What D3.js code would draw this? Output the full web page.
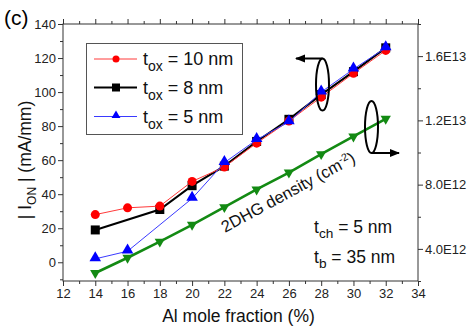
<!DOCTYPE html>
<html>
<head>
<meta charset="utf-8">
<script src="https://cdn.jsdelivr.net/npm/d3@7/dist/d3.min.js"></script>
<style>
  html, body { margin: 0; padding: 0; background: #fff; }
  svg { display: block; font-family: "Liberation Sans", Arial, sans-serif; }
</style>
</head>
<body>
<svg id="chart" width="474" height="334"></svg>
<script>
// Al mole fraction (%)
const alFraction = [14, 16, 18, 20, 22, 24, 26, 28, 30, 32];

// |I_ON| (mA/mm) for each oxide thickness
const tox10 = [
  [14, 28], [16, 32], [18, 33], [20, 47.5], [22, 56], [24, 70], [26, 83], [28, 97], [30, 111], [32, 124.5]
];
const tox8 = [
  [14, 19], [18, 31], [20, 45], [22, 56.5], [24, 71], [26, 84], [28, 98.5], [30, 112], [32, 126]
];
const tox5 = [
  [14, 2], [16, 6.5], [20, 37.5], [22, 58.5], [24, 72], [26, 82.5], [28, 100], [30, 113.5], [32, 126]
];

// 2DHG density (cm^-2), right axis
const hgDensity = [2.5e12, 3.45e12, 4.45e12, 5.5e12, 6.6e12, 7.7e12, 8.75e12, 9.9e12, 11.0e12, 12.1e12];

// Tick values and labels
const xTicks = [12, 14, 16, 18, 20, 22, 24, 26, 28, 30, 32, 34];
const yLeftTicks = [0, 20, 40, 60, 80, 100, 120, 140];
const yRightTicks = [4e12, 8e12, 12e12, 16e12];
const yRightLabels = ["4.0E12", "8.0E12", "1.2E13", "1.6E13"];

const svg = d3.select("#chart");
const plot = { left: 63, right: 418, top: 24, bottom: 281 };

const x = d3.scaleLinear().domain([12, 34]).range([plot.left, plot.right]);
const yL = d3.scaleLinear().domain([-11, 140]).range([plot.bottom, plot.top]);
const yR = d3.scaleLinear().domain([2e12, 18e12]).range([plot.bottom, plot.top]);

const axisColor = "#333";
const tickText = "#222";

// minor ticks
const xMinor = d3.range(13, 34, 2);
const yLeftMinor = d3.range(-10, 141, 20);
const yRightMinor = [2e12, 6e12, 10e12, 14e12, 18e12];

function styleAxis(g) {
  g.selectAll("path").attr("stroke", axisColor);
  g.selectAll("line").attr("stroke", axisColor);
  g.selectAll("text").attr("fill", tickText).style("font-size", "13px");
}

// bottom axis
svg.append("g").attr("transform", `translate(0,${plot.bottom})`)
  .call(d3.axisBottom(x).tickValues(xTicks).tickSize(5).tickSizeOuter(0).tickPadding(3))
  .call(styleAxis)
  .call(g => g.select(".domain").remove());
svg.append("g").attr("transform", `translate(0,${plot.bottom})`)
  .call(d3.axisBottom(x).tickValues(xMinor).tickSize(3).tickFormat(""))
  .call(styleAxis).call(g => g.select(".domain").remove());

// top axis (ticks only)
svg.append("g").attr("transform", `translate(0,${plot.top})`)
  .call(d3.axisTop(x).tickValues(xTicks).tickSize(5).tickFormat(""))
  .call(styleAxis).call(g => g.select(".domain").remove());
svg.append("g").attr("transform", `translate(0,${plot.top})`)
  .call(d3.axisTop(x).tickValues(xMinor).tickSize(3).tickFormat(""))
  .call(styleAxis).call(g => g.select(".domain").remove());

// left axis
svg.append("g").attr("transform", `translate(${plot.left},0)`)
  .call(d3.axisLeft(yL).tickValues(yLeftTicks).tickSize(5).tickPadding(2))
  .call(styleAxis).call(g => g.select(".domain").remove());
svg.append("g").attr("transform", `translate(${plot.left},0)`)
  .call(d3.axisLeft(yL).tickValues(yLeftMinor).tickSize(3).tickFormat(""))
  .call(styleAxis).call(g => g.select(".domain").remove());

// right axis
svg.append("g").attr("transform", `translate(${plot.right},0)`)
  .call(d3.axisRight(yR).tickValues(yRightTicks).tickSize(5).tickPadding(2)
    .tickFormat((d, i) => yRightLabels[i]))
  .call(styleAxis).call(g => g.select(".domain").remove());
svg.append("g").attr("transform", `translate(${plot.right},0)`)
  .call(d3.axisRight(yR).tickValues(yRightMinor).tickSize(3).tickFormat(""))
  .call(styleAxis).call(g => g.select(".domain").remove());

// frame
svg.append("rect")
  .attr("x", plot.left).attr("y", plot.top)
  .attr("width", plot.right - plot.left).attr("height", plot.bottom - plot.top)
  .attr("fill", "none").attr("stroke", axisColor).attr("stroke-width", 1);

// series
const lineL = d3.line().x(d => x(d[0])).y(d => yL(d[1]));

const greenPts = alFraction.map((a, i) => [a, hgDensity[i]]);
const lineR = d3.line().x(d => x(d[0])).y(d => yR(d[1]));

const tri = d3.symbol().type(d3.symbolTriangle).size(58);
const triDown = d3.symbol().type(d3.symbolTriangle).size(46);

// green density curve
svg.append("path").datum(greenPts).attr("d", lineR)
  .attr("fill", "none").attr("stroke", "#138a13").attr("stroke-width", 2.6);
svg.append("g").selectAll("path").data(greenPts).join("path")
  .attr("d", triDown)
  .attr("transform", d => `translate(${x(d[0])},${yR(d[1])}) rotate(180)`)
  .attr("fill", "#138a13");

// black: tox = 8 nm
svg.append("path").datum(tox8).attr("d", lineL)
  .attr("fill", "none").attr("stroke", "#000").attr("stroke-width", 2);
svg.append("g").selectAll("rect").data(tox8).join("rect")
  .attr("x", d => x(d[0]) - 4.5).attr("y", d => yL(d[1]) - 4.5)
  .attr("width", 9).attr("height", 9).attr("fill", "#000");

// red: tox = 10 nm
svg.append("path").datum(tox10).attr("d", lineL)
  .attr("fill", "none").attr("stroke", "#ff3a3a").attr("stroke-width", 1);
svg.append("g").selectAll("circle").data(tox10).join("circle")
  .attr("cx", d => x(d[0])).attr("cy", d => yL(d[1])).attr("r", 4.5)
  .attr("fill", "#ff0000");

// blue: tox = 5 nm
svg.append("path").datum(tox5).attr("d", lineL)
  .attr("fill", "none").attr("stroke", "#3a3aff").attr("stroke-width", 1);
svg.append("g").selectAll("path").data(tox5).join("path")
  .attr("d", tri)
  .attr("transform", d => `translate(${x(d[0])},${yL(d[1]) - 1})`)
  .attr("fill", "#0000ff");

// axis-pointer ellipses with arrows
const defs = svg.append("defs");
defs.append("marker").attr("id", "arrowHead")
  .attr("viewBox", "0 0 10 10").attr("refX", 9).attr("refY", 5)
  .attr("markerWidth", 5).attr("markerHeight", 5).attr("orient", "auto")
  .append("path").attr("d", "M0,1 L10,5 L0,9 Z").attr("fill", "#000");

function pointer(cx, cy, rx, ry, fromTop, toX) {
  svg.append("ellipse").attr("cx", cx).attr("cy", cy).attr("rx", rx).attr("ry", ry)
    .attr("fill", "none").attr("stroke", "#000").attr("stroke-width", 2);
  const yy = fromTop ? cy - ry : cy + ry;
  svg.append("line").attr("x1", cx).attr("y1", yy).attr("x2", toX).attr("y2", yy)
    .attr("stroke", "#000").attr("stroke-width", 2)
    .attr("marker-end", "url(#arrowHead)");
}
pointer(322.5, 84.5, 6.5, 26, true, 296);
pointer(371.5, 127, 6.5, 26, false, 399);

// annotation along the density curve
const dens = svg.append("text")
  .attr("transform", "translate(225,233) rotate(-28.5)")
  .style("font-size", "16.5px").attr("fill", "#111");
dens.append("tspan").text("2DHG density (cm");
dens.append("tspan").attr("dy", -6).style("font-size", "10.5px").text("-2");
dens.append("tspan").attr("dy", 6).text(")");

// device thicknesses
function subText(xp, yp, main, sub, rest, size) {
  const t = svg.append("text").attr("x", xp).attr("y", yp)
    .style("font-size", size + "px").attr("fill", "#111");
  t.append("tspan").text(main);
  t.append("tspan").attr("dy", 5).style("font-size", (size * 0.78) + "px").text(sub);
  t.append("tspan").attr("dy", -5).text(rest);
  return t;
}
subText(314, 233, "t", "ch", " = 5 nm", 17.5);
subText(314, 263, "t", "b", " = 35 nm", 17.5);

// legend
const legend = svg.append("g");
legend.append("rect").attr("x", 86.5).attr("y", 43.5).attr("width", 156).attr("height", 91)
  .attr("fill", "#fff").attr("stroke", "#555").attr("stroke-width", 1);
const legendItems = [
  { label: " = 10 nm", color: "#ff3a3a", w: 1, kind: "circle" },
  { label: " = 8 nm", color: "#000", w: 2, kind: "square" },
  { label: " = 5 nm", color: "#3a3aff", w: 1, kind: "triangle" }
];
const rowY = [59, 87.5, 116.5];
legendItems.forEach((it, i) => {
  const cy = rowY[i];
  legend.append("line").attr("x1", 94).attr("x2", 137).attr("y1", cy).attr("y2", cy)
    .attr("stroke", it.color).attr("stroke-width", it.w);
  if (it.kind === "circle") {
    legend.append("circle").attr("cx", 116).attr("cy", cy).attr("r", 3.5).attr("fill", "#ff0000");
  } else if (it.kind === "square") {
    legend.append("rect").attr("x", 112).attr("y", cy - 4).attr("width", 8).attr("height", 8).attr("fill", "#000");
  } else {
    legend.append("path").attr("d", d3.symbol().type(d3.symbolTriangle).size(34))
      .attr("transform", `translate(116,${cy - 1})`).attr("fill", "#0000ff");
  }
  const t = legend.append("text").attr("x", 143).attr("y", cy + 6)
    .style("font-size", "18px").attr("fill", "#111");
  t.append("tspan").text("t");
  t.append("tspan").attr("dy", 6).style("font-size", "14px").text("ox");
  t.append("tspan").attr("dy", -6).text(it.label);
});

// axis titles
svg.append("text").attr("x", (plot.left + plot.right) / 2 - 2).attr("y", 322)
  .attr("text-anchor", "middle").style("font-size", "17.5px").attr("fill", "#111")
  .text("Al mole fraction (%)");

const yt = svg.append("text")
  .attr("transform", "translate(31,160) rotate(-90)")
  .attr("text-anchor", "middle").style("font-size", "17.5px").attr("fill", "#111");
yt.append("tspan").text("| I");
yt.append("tspan").attr("dy", 5).style("font-size", "12px").text("ON");
yt.append("tspan").attr("dy", -5).text(" | (mA/mm)");

// panel tag
svg.append("text").attr("x", 4).attr("y", 25)
  .style("font-size", "21px").attr("fill", "#000").text("(c)");
</script>
</body>
</html>
